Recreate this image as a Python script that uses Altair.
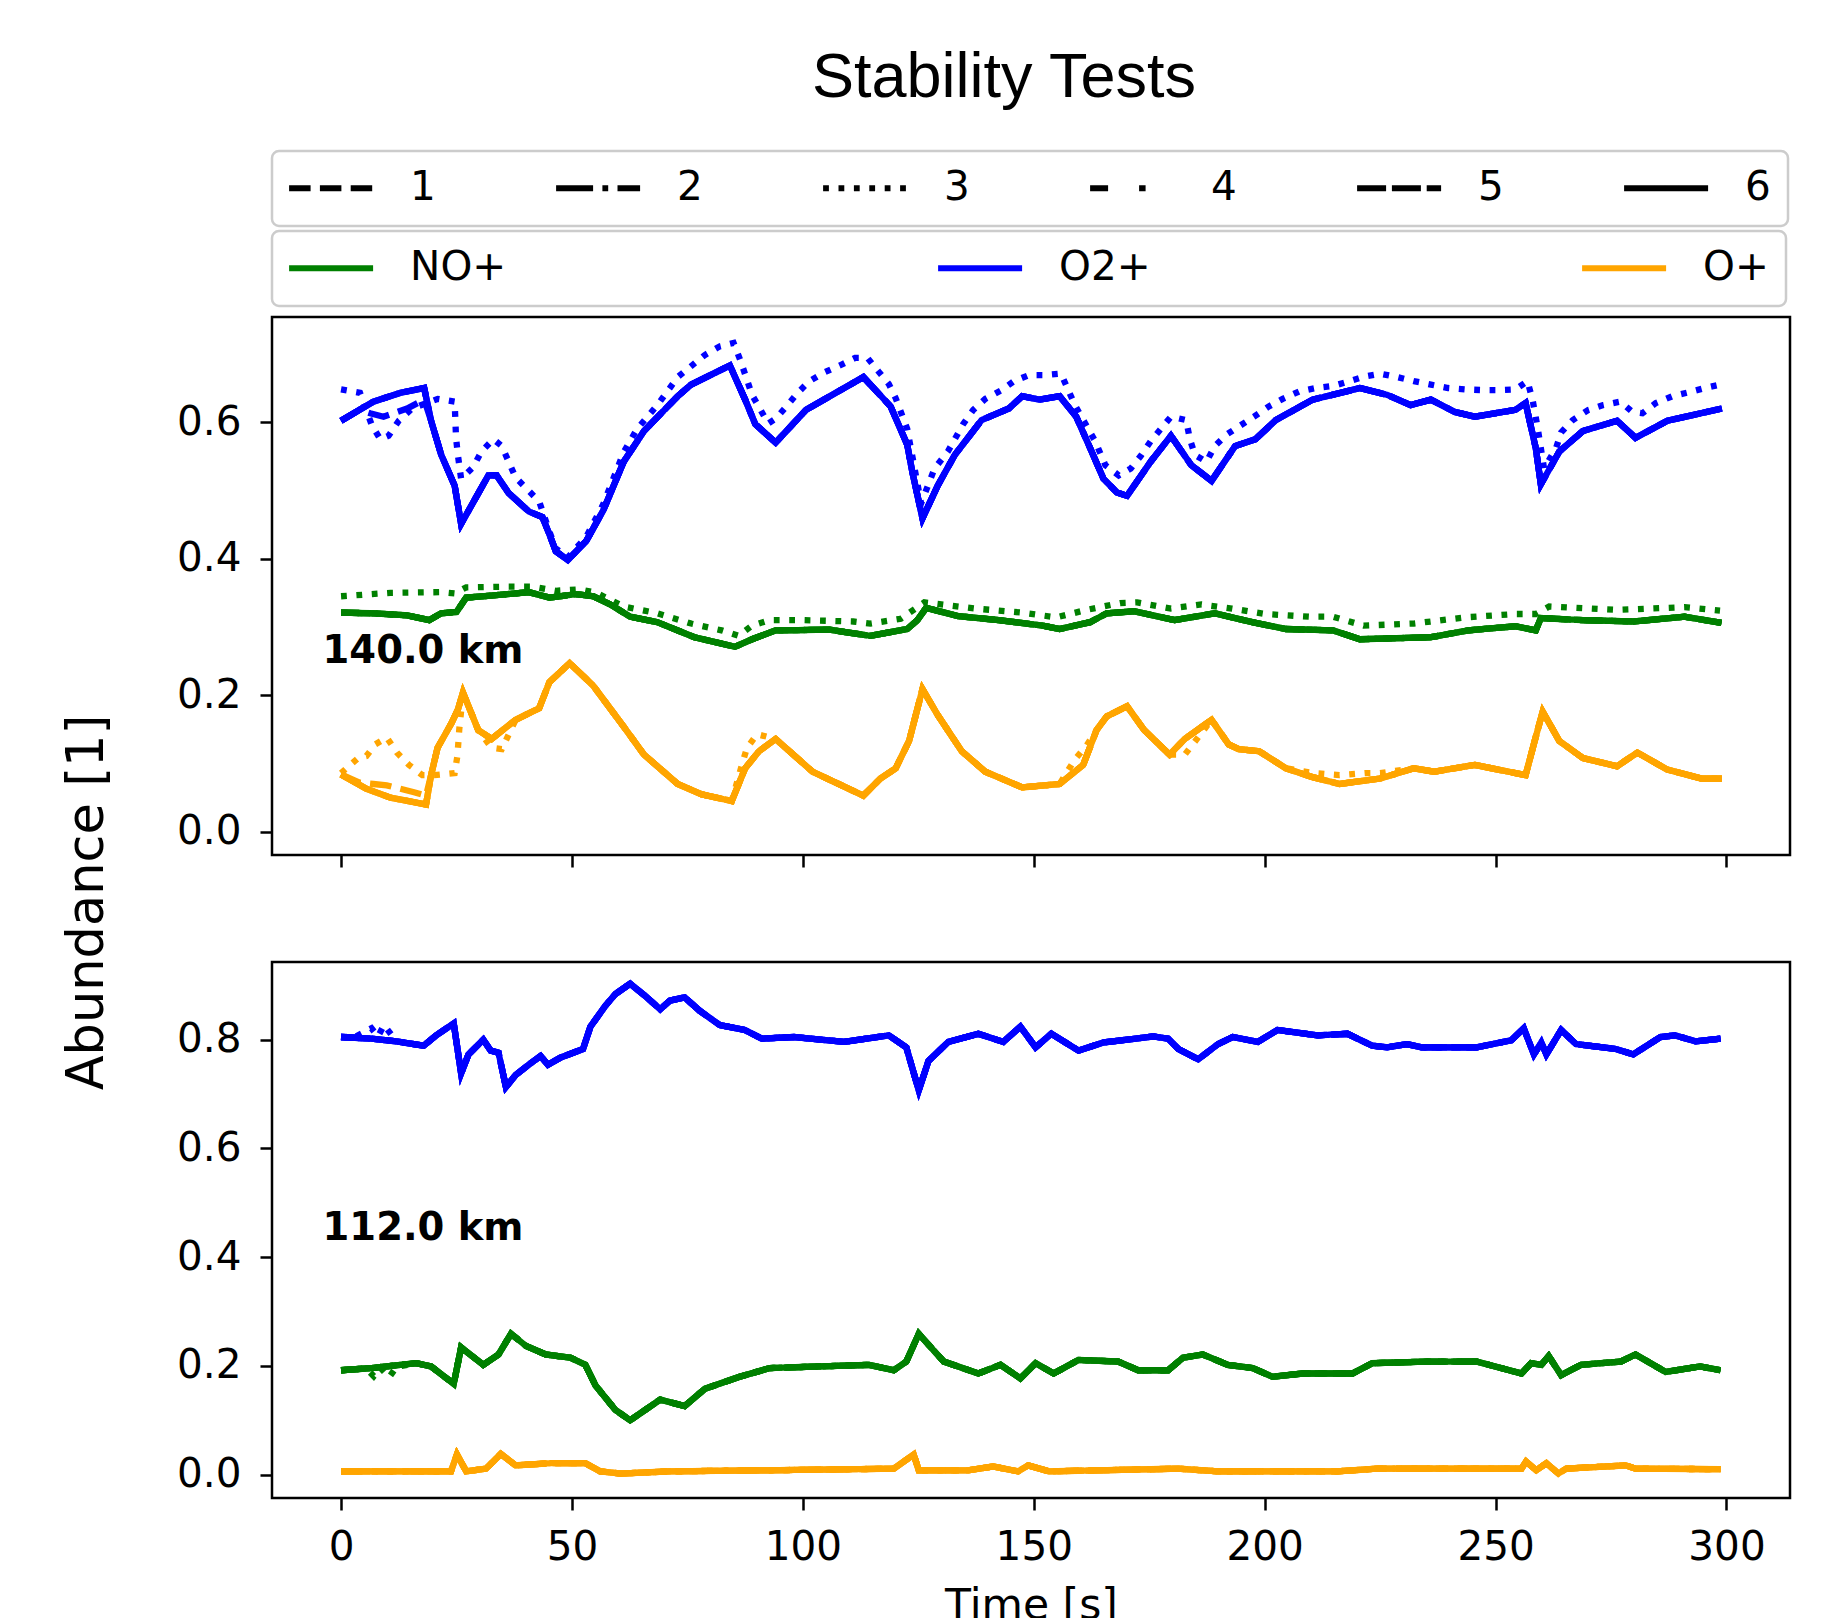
import altair as alt
import pandas as pd

# ---------------------------------------------------------------- categories
RUNS = ["1", "2", "3", "4", "5", "6"]
RUN_DASHES = [[21.5, 9.3], [37, 9.3, 5.8, 9.3], [5.8, 9.6], [18, 31, 6.5, 31], [29, 5.8], [1, 0]]
SPECIES = ["NO+", "O2+", "O+"]
SPECIES_COLORS = ["green", "blue", "orange"]

X_TICKS = [0, 50, 100, 150, 200, 250, 300]
Y_TICKS_140 = [0.0, 0.2, 0.4, 0.6]
Y_TICKS_112 = [0.0, 0.2, 0.4, 0.6, 0.8]

# ---------------------------------------------------------------- 140 km
T_O2_140 = [0, 7.0, 12.9, 18.0, 19.5, 21.7, 24.6, 26.0, 31.9, 33.7, 36.3, 40.7, 43.6, 45.1, 46.5, 49.1,
            53.1, 56.8, 61.2, 65.6, 72.9, 75.8, 84.2, 87.5, 89.7, 94.1, 100.7, 113.1, 119.0, 122.6, 123.7,
            125.9, 129.2, 132.9, 138.7, 144.6, 147.5, 151.2, 155.6, 159.2, 162.2, 165.1, 168.0, 170.2, 175.3,
            179.7, 184.1, 188.5, 193.6, 198.0, 202.4, 210.4, 217.7, 220.6, 226.5, 231.6, 236.0, 241.1, 245.5,
            254.3, 256.5, 258.7, 259.8, 263.8, 268.9, 276.3, 280.3, 287.2, 299.0]
O2_140 = [0.602, 0.630, 0.643, 0.650, 0.602, 0.552, 0.507, 0.451, 0.522, 0.522, 0.496, 0.469, 0.461, 0.436,
          0.411, 0.398, 0.426, 0.471, 0.542, 0.587, 0.638, 0.655, 0.683, 0.633, 0.597, 0.570, 0.618, 0.666,
          0.623, 0.567, 0.527, 0.459, 0.507, 0.552, 0.603, 0.620, 0.638, 0.633, 0.638, 0.608, 0.562, 0.517,
          0.497, 0.492, 0.542, 0.580, 0.537, 0.514, 0.565, 0.575, 0.603, 0.633, 0.645, 0.650, 0.640, 0.625,
          0.633, 0.615, 0.608, 0.618, 0.628, 0.562, 0.509, 0.557, 0.587, 0.602, 0.577, 0.602, 0.620]
# run 1 leaves the common curve during the first seconds
T_O2_140_R1 = [0, 4.0, 6.3, 9.2, 14.3, 18.0]
O2_140_R1 = [0.602, 0.618, 0.613, 0.608, 0.620, 0.633]
# run 3 (dotted)
T_O2_140_R3 = [0, 4.1, 6.7, 8.5, 10.3, 12.5, 15.4, 20.9, 24.6, 24.9, 25.3, 26.0, 28.6, 30.4, 33.0, 34.8,
               36.3, 37.8, 40.7, 42.9, 45.1, 46.5, 49.1, 53.1, 56.8, 61.2, 64.1, 68.5, 72.9, 78.7, 82.0,
               85.0, 86.5, 89.0, 92.5, 94.1, 96.7, 98.9, 101.4, 104.7, 108.0, 111.3, 114.0, 116.4, 118.6,
               120.1, 122.6, 125.6, 128.5, 131.4, 134.7, 136.9, 139.5, 142.8, 145.7, 149.0, 152.6, 155.9,
               157.4, 158.9, 163.3, 165.5, 168.4, 171.0, 173.1, 175.3, 177.5, 179.7, 183.0, 183.8, 184.9,
               187.4, 189.2, 191.8, 194.7, 197.7, 200.9, 203.9, 207.5, 211.1, 214.8, 218.4, 221.7, 225.0,
               228.7, 232.3, 236.0, 239.7, 243.3, 247.0, 250.6, 254.3, 256.9, 258.0, 259.1, 260.5, 263.1,
               264.2, 266.7, 270.1, 273.3, 277.0, 279.6, 281.8, 284.7, 288.3, 292.0, 295.3, 298.6]
O2_140_R3 = [0.648, 0.643, 0.595, 0.575, 0.580, 0.602, 0.620, 0.634, 0.630, 0.577, 0.552, 0.517, 0.534,
             0.557, 0.575, 0.565, 0.542, 0.519, 0.499, 0.484, 0.440, 0.415, 0.402, 0.432, 0.480, 0.556,
             0.590, 0.625, 0.666, 0.698, 0.711, 0.716, 0.690, 0.640, 0.598, 0.605, 0.625, 0.643, 0.660,
             0.673, 0.683, 0.694, 0.694, 0.674, 0.656, 0.635, 0.590, 0.481, 0.532, 0.557, 0.597, 0.618,
             0.634, 0.646, 0.660, 0.669, 0.669, 0.671, 0.648, 0.625, 0.572, 0.537, 0.522, 0.532, 0.550,
             0.572, 0.590, 0.608, 0.603, 0.575, 0.552, 0.542, 0.565, 0.582, 0.595, 0.608, 0.623, 0.634,
             0.645, 0.650, 0.653, 0.660, 0.667, 0.671, 0.666, 0.660, 0.655, 0.650, 0.648, 0.647, 0.647,
             0.648, 0.660, 0.633, 0.592, 0.532, 0.562, 0.585, 0.603, 0.618, 0.625, 0.630, 0.615, 0.613,
             0.628, 0.638, 0.644, 0.650, 0.655]

T_NO_140 = [0, 7.0, 14.3, 19.1, 21.7, 25.0, 27.1, 32.6, 40.7, 45.1, 50.9, 54.6, 58.3, 62.6, 68.5, 76.5,
            85.3, 89.0, 94.1, 105.8, 114.6, 122.6, 124.8, 126.7, 133.6, 142.4, 151.9, 155.6, 162.2, 165.8,
            171.7, 180.5, 189.2, 197.3, 204.6, 214.8, 220.6, 236.0, 244.1, 254.3, 258.7, 259.8, 268.9,
            279.9, 290.9, 298.9]
NO_140 = [0.321, 0.320, 0.317, 0.310, 0.320, 0.322, 0.343, 0.346, 0.351, 0.343, 0.348, 0.345, 0.333, 0.315,
          0.307, 0.285, 0.271, 0.282, 0.295, 0.296, 0.287, 0.297, 0.310, 0.328, 0.316, 0.310, 0.302, 0.297,
          0.307, 0.320, 0.323, 0.310, 0.320, 0.307, 0.297, 0.295, 0.282, 0.285, 0.295, 0.301, 0.295, 0.313,
          0.310, 0.308, 0.315, 0.306]
T_NO_140_R3 = [0, 10.7, 21.7, 24.6, 27.1, 36.3, 41.4, 46.5, 51.7, 55.3, 61.2, 68.5, 75.8, 82.4, 86.1, 89.0,
               92.7, 99.8, 110.9, 114.6, 121.2, 126.3, 137.3, 147.5, 154.9, 161.4, 168.7, 172.4, 179.7,
               186.3, 192.9, 200.2, 209.6, 214.8, 221.4, 232.3, 243.3, 254.3, 258.7, 261.6, 276.3, 290.9,
               298.6]
NO_140_R3 = [0.345, 0.350, 0.351, 0.349, 0.358, 0.359, 0.359, 0.353, 0.355, 0.350, 0.330, 0.320, 0.305,
             0.295, 0.287, 0.302, 0.310, 0.310, 0.308, 0.305, 0.312, 0.336, 0.327, 0.321, 0.314, 0.325,
             0.335, 0.336, 0.327, 0.333, 0.327, 0.319, 0.315, 0.315, 0.302, 0.305, 0.314, 0.319, 0.319,
             0.330, 0.325, 0.329, 0.324]

T_OP_140 = [0, 5.5, 10.7, 18.4, 19.5, 20.9, 23.9, 25.3, 26.4, 29.7, 32.6, 37.8, 42.9, 45.1, 49.5, 54.6,
            61.2, 65.6, 72.9, 78.0, 84.6, 87.5, 90.5, 94.1, 102.1, 113.1, 116.8, 120.1, 123.0, 125.9, 129.2,
            134.4, 139.5, 147.5, 155.6, 160.7, 163.6, 165.8, 170.2, 173.9, 179.4, 182.7, 188.5, 192.2, 194.4,
            198.8, 204.6, 210.4, 216.2, 225.0, 232.3, 236.7, 245.5, 256.5, 258.7, 260.2, 263.8, 268.9, 276.3,
            280.7, 287.2, 294.6, 299.0]
OP_140 = [0.084, 0.063, 0.050, 0.040, 0.083, 0.123, 0.159, 0.179, 0.204, 0.149, 0.136, 0.164, 0.181, 0.219,
          0.247, 0.214, 0.154, 0.113, 0.070, 0.055, 0.045, 0.093, 0.118, 0.136, 0.088, 0.053, 0.078, 0.093,
          0.133, 0.209, 0.171, 0.118, 0.088, 0.065, 0.070, 0.098, 0.149, 0.169, 0.184, 0.149, 0.113, 0.136,
          0.164, 0.128, 0.121, 0.118, 0.093, 0.080, 0.070, 0.078, 0.093, 0.088, 0.098, 0.083, 0.139, 0.176,
          0.133, 0.108, 0.096, 0.116, 0.091, 0.078, 0.078]
T_OP_140_R1 = [0, 4.0, 7.0, 9.9, 15.8, 18.4]
OP_140_R1 = [0.084, 0.072, 0.070, 0.068, 0.058, 0.053]
T_OP_140_R3 = [0, 3.7, 5.5, 7.4, 9.9, 12.1, 14.7, 17.6, 20.2, 24.6, 25.2, 25.6, 26.4, 29.7, 32.6, 34.8,
               37.8, 42.9, 45.1, 49.5, 54.6, 61.2, 65.6, 72.9, 78.0, 84.6, 86.8, 87.9, 90.1, 94.1, 102.1,
               113.1, 116.8, 120.1, 123.0, 125.9, 129.2, 134.4, 139.5, 147.5, 155.6, 158.9, 161.4, 163.6,
               165.8, 170.2, 173.9, 179.4, 182.7, 188.5, 192.2, 194.4, 198.8, 204.6, 210.4, 216.2, 221.7,
               225.0, 232.3, 236.7, 245.5, 256.5, 258.7, 260.2, 263.8, 268.9, 276.3, 280.7, 287.2, 294.6,
               299.0]
OP_140_R3 = [0.086, 0.108, 0.111, 0.128, 0.138, 0.116, 0.098, 0.083, 0.083, 0.086, 0.111, 0.150, 0.204,
             0.149, 0.123, 0.121, 0.164, 0.181, 0.219, 0.247, 0.214, 0.154, 0.113, 0.070, 0.055, 0.045,
             0.098, 0.123, 0.143, 0.136, 0.088, 0.053, 0.078, 0.093, 0.133, 0.209, 0.171, 0.118, 0.088,
             0.065, 0.070, 0.106, 0.126, 0.149, 0.169, 0.184, 0.149, 0.113, 0.113, 0.164, 0.128, 0.121,
             0.118, 0.093, 0.086, 0.083, 0.086, 0.086, 0.093, 0.088, 0.098, 0.083, 0.139, 0.176, 0.133,
             0.108, 0.096, 0.116, 0.091, 0.078, 0.078]

# ---------------------------------------------------------------- 112 km
T_O2_112 = [0, 6.6, 12.0, 17.9, 20.6, 24.4, 26.0, 27.6, 30.8, 32.4, 34.1, 35.7, 37.8, 41.1, 43.2, 44.8,
            47.5, 52.4, 54.0, 57.2, 59.4, 62.6, 65.8, 69.1, 71.2, 74.4, 77.7, 82.0, 87.4, 91.1, 98.1, 108.9,
            118.6, 122.4, 125.1, 127.2, 131.5, 138.0, 143.4, 147.1, 150.4, 153.8, 159.7, 165.1, 175.9,
            179.1, 181.3, 185.6, 189.9, 193.1, 198.5, 202.8, 211.4, 217.9, 223.3, 226.5, 230.8, 234.0,
            245.9, 253.4, 256.1, 258.3, 259.9, 261.0, 264.2, 267.4, 276.0, 279.8, 285.7, 288.9, 293.3, 298.7]
O2_112 = [0.805, 0.802, 0.797, 0.789, 0.808, 0.830, 0.738, 0.773, 0.800, 0.780, 0.776, 0.713, 0.735, 0.757,
          0.770, 0.754, 0.767, 0.783, 0.824, 0.862, 0.884, 0.903, 0.881, 0.856, 0.872, 0.878, 0.853, 0.827,
          0.818, 0.802, 0.805, 0.796, 0.808, 0.786, 0.707, 0.761, 0.796, 0.811, 0.796, 0.824, 0.786, 0.811,
          0.780, 0.795, 0.806, 0.802, 0.783, 0.764, 0.792, 0.805, 0.796, 0.818, 0.808, 0.811, 0.789, 0.786,
          0.792, 0.786, 0.786, 0.799, 0.821, 0.773, 0.795, 0.773, 0.818, 0.792, 0.783, 0.773, 0.805, 0.808,
          0.797, 0.802]
T_O2_112_R3 = [0, 3.0, 6.6, 8.0, 9.3, 12.0]
O2_112_R3 = [0.805, 0.805, 0.821, 0.806, 0.827, 0.797]

T_NO_112 = [0, 6.6, 16.3, 19.5, 24.4, 26.0, 30.8, 34.1, 36.8, 40.0, 44.3, 49.7, 52.9, 55.1, 59.4, 62.6,
            69.1, 74.4, 78.8, 86.3, 92.8, 103.5, 114.3, 119.7, 122.4, 125.1, 130.5, 138.0, 142.8, 147.1,
            150.4, 154.3, 159.7, 168.3, 172.6, 179.1, 182.3, 186.6, 192.0, 197.4, 201.7, 208.2, 219.0,
            223.3, 235.1, 245.9, 255.6, 257.7, 259.9, 261.5, 264.2, 268.5, 277.1, 280.3, 286.8, 294.3, 298.7]
NO_112 = [0.192, 0.196, 0.205, 0.199, 0.167, 0.234, 0.202, 0.221, 0.259, 0.237, 0.221, 0.215, 0.202, 0.164,
          0.119, 0.100, 0.138, 0.126, 0.158, 0.180, 0.196, 0.199, 0.202, 0.192, 0.208, 0.259, 0.208, 0.186,
          0.202, 0.177, 0.205, 0.186, 0.211, 0.208, 0.192, 0.192, 0.215, 0.221, 0.202, 0.196, 0.180, 0.186,
          0.186, 0.205, 0.208, 0.208, 0.186, 0.205, 0.202, 0.218, 0.183, 0.202, 0.208, 0.221, 0.189, 0.199,
          0.192]
T_NO_112_R3 = [0, 5.5, 7.1, 8.6, 10.4, 12.0]
NO_112_R3 = [0.192, 0.195, 0.181, 0.196, 0.179, 0.198]

T_OP_112 = [0, 23.8, 25.1, 27.1, 31.4, 34.6, 37.8, 45.4, 52.9, 56.1, 60.5, 71.2, 92.8, 119.7, 124.0, 125.1,
            135.8, 141.2, 146.6, 148.8, 153.3, 181.3, 189.9, 215.7, 224.3, 255.6, 256.6, 258.8, 261.0,
            263.6, 265.3, 278.2, 280.3, 298.7]
OP_112 = [0.006, 0.006, 0.037, 0.006, 0.011, 0.038, 0.017, 0.021, 0.021, 0.006, 0.002, 0.006, 0.008, 0.011,
          0.037, 0.008, 0.008, 0.015, 0.006, 0.017, 0.006, 0.011, 0.006, 0.006, 0.011, 0.011, 0.024, 0.008,
          0.021, 0.002, 0.011, 0.017, 0.011, 0.010]

# altitude labels placed inside each panel (time, abundance)
LABEL_140 = {"t": -4.0, "v": 0.265, "label": "140.0 km"}
LABEL_112 = {"t": -4.0, "v": 0.453, "label": "112.0 km"}


def rows(species, run, times, values):
    return [{"species": species, "run": run, "t": t, "v": v} for t, v in zip(times, values)]


def spliced(t_head, v_head, t_base, v_base):
    """Own early samples, then the common curve after the last of them."""
    tail = [(t, v) for t, v in zip(t_base, v_base) if t > t_head[-1]]
    return t_head + [t for t, _ in tail], v_head + [v for _, v in tail]


def build_140():
    out = []
    base = {"NO+": (T_NO_140, NO_140), "O2+": (T_O2_140, O2_140), "O+": (T_OP_140, OP_140)}
    run1 = {"NO+": base["NO+"],
            "O2+": spliced(T_O2_140_R1, O2_140_R1, T_O2_140, O2_140),
            "O+": spliced(T_OP_140_R1, OP_140_R1, T_OP_140, OP_140)}
    run3 = {"NO+": (T_NO_140_R3, NO_140_R3), "O2+": (T_O2_140_R3, O2_140_R3), "O+": (T_OP_140_R3, OP_140_R3)}
    for run in RUNS:
        src = run1 if run == "1" else run3 if run == "3" else base
        for sp in SPECIES:
            out += rows(sp, run, *src[sp])
    return pd.DataFrame(out)


def build_112():
    out = []
    base = {"NO+": (T_NO_112, NO_112), "O2+": (T_O2_112, O2_112), "O+": (T_OP_112, OP_112)}
    run3 = {"NO+": spliced(T_NO_112_R3, NO_112_R3, T_NO_112, NO_112),
            "O2+": spliced(T_O2_112_R3, O2_112_R3, T_O2_112, O2_112),
            "O+": base["O+"]}
    for run in RUNS:
        src = run3 if run == "3" else base
        for sp in SPECIES:
            out += rows(sp, run, *src[sp])
    return pd.DataFrame(out)


FONT = "DejaVu Sans"
LW = 6.3          # data line width
LEGEND_LW = 5.8   # legend sample width
TICK_FONT = 40.5
X_DOMAIN = [-14.95, 313.75]

legend_frame = dict(orient="none", direction="horizontal", title=None, padding=17, cornerRadius=7,
                    strokeColor="#cccccc", fillColor="white", symbolType="stroke", symbolSize=7056,
                    symbolStrokeWidth=LEGEND_LW, symbolOffset=-2.9, clipHeight=40,
                    labelFont=FONT, labelFontSize=TICK_FONT, labelColor="black",
                    labelOffset=34, gridAlign="each", symbolOpacity=1)

dash_legend = alt.Legend(columns=6, columnPadding=120, legendX=0, legendY=-166,
                         symbolStrokeColor="black", **legend_frame)
color_legend = alt.Legend(columns=3, columnPadding=431, legendX=0, legendY=-86, **legend_frame)

color_scale = alt.Scale(domain=SPECIES, range=SPECIES_COLORS)
dash_scale = alt.Scale(domain=RUNS, range=RUN_DASHES)


def panel(df, label, y_domain, y_ticks, height, bottom, title=None):
    x_axis = alt.Axis(values=X_TICKS, labels=bottom, title="Time [s]" if bottom else None,
                      titleFontSize=42.5, titlePadding=17, labelPadding=17, format="d")
    if title is not None:
        y_axis = alt.Axis(values=y_ticks, format=".1f", labelPadding=19, title="Abundance [1]",
                          titleFontSize=51, titleX=-185, titleY=585, titleAngle=270,
                          titleAlign="center", titleBaseline="middle")
    else:
        y_axis = alt.Axis(values=y_ticks, format=".1f", labelPadding=19, title=None)
    x = alt.X("t:Q", scale=alt.Scale(domain=X_DOMAIN, nice=False, zero=False), axis=x_axis)
    y = alt.Y("v:Q", scale=alt.Scale(domain=y_domain, nice=False, zero=False), axis=y_axis)
    layers = []
    for run in RUNS:
        layers.append(
            alt.Chart(df[df["run"] == run]).mark_line(strokeWidth=LW, clip=True).encode(
                x=x, y=y,
                color=alt.Color("species:N", scale=color_scale, legend=color_legend),
                strokeDash=alt.StrokeDash("run:N", scale=dash_scale, legend=dash_legend),
                detail="species:N",
            )
        )
    text = alt.Chart(pd.DataFrame([label])).mark_text(
        align="left", baseline="middle", font=FONT, fontWeight="bold", fontSize=38.5, color="black"
    ).encode(x=x, y=y, text="label:N")
    out = alt.layer(*layers, text).properties(width=1518, height=height)
    if title is not None:
        out = out.properties(title=title)
    return out


figure_title = alt.TitleParams("Stability Tests", font="Liberation Sans", fontSize=63, fontWeight="normal",
                               color="black", anchor="middle", dx=-27, offset=157, baseline="alphabetic")

top = panel(build_140(), LABEL_140, [-0.034, 0.754], Y_TICKS_140, 538, False, figure_title)
bottom = panel(build_112(), LABEL_112, [-0.043, 0.943], Y_TICKS_112, 536, True)

chart = alt.vconcat(top, bottom, spacing=107, bounds="flush").properties(
    padding={"left": 59, "top": 45, "right": 20, "bottom": 10},
    background="white",
).configure_axis(
    labelFont=FONT, labelFontSize=TICK_FONT, labelColor="black", titleFont=FONT, titleColor="black",
    titleFontWeight="normal", tickColor="black", tickWidth=2.5, tickSize=12, domain=False, grid=False,
    labelFlush=False,
).configure_view(stroke="black", strokeWidth=2.5).configure_legend(strokeWidth=2.5)

chart.save("out.html", embed_options={"renderer": "svg", "actions": False})
